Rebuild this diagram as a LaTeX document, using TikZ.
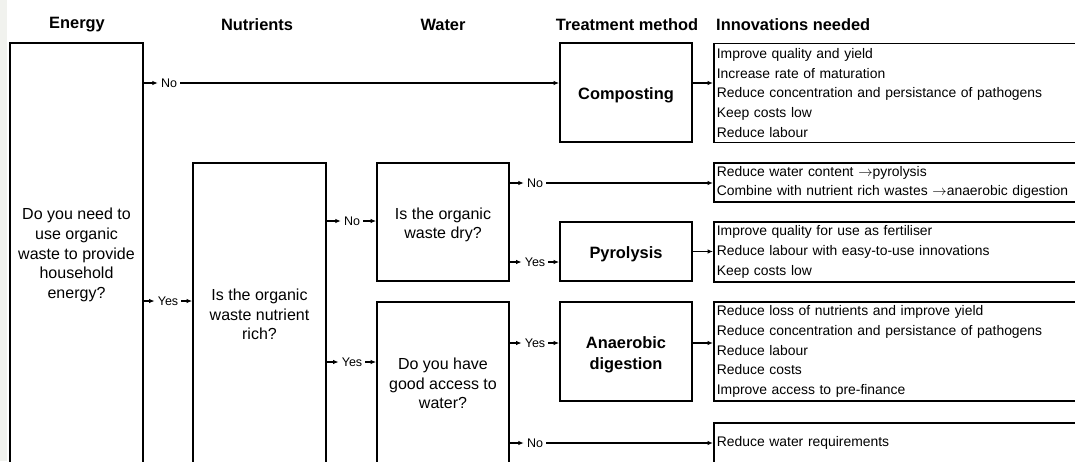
\documentclass[tikz,border=0pt]{standalone}
\usepackage{fontspec}
\setmainfont{Liberation Sans}
\usetikzlibrary{arrows.meta,calc}
\definecolor{stripcol}{HTML}{F1F2EE}
\newcommand{\rarr}{\ $\rightarrow$}
\begin{document}
\begin{tikzpicture}[x=1pt,y=-1pt,
  box/.style={draw=black, line width=1.7pt, inner sep=0pt, anchor=center},
  qtext/.style={align=center, inner sep=0pt, font=\fontsize{16}{19.6}\selectfont},
  ttext/.style={align=center, inner sep=0pt, font=\fontsize{16.4}{20}\selectfont\bfseries},
  head/.style={inner sep=0pt, font=\fontsize{16.4}{20}\selectfont\bfseries},
  lab/.style={inner xsep=3pt, inner ysep=1pt, font=\fontsize{12.5}{15}\selectfont},
  inn/.style={draw=black, line width=1.7pt, anchor=west, align=left, text width=400pt,
              inner xsep=3pt, inner ysep=1pt, font=\fontsize{13.9}{19.8}\selectfont},
  conn/.style={line width=1.2pt, -{Latex[length=5.5pt,width=4.5pt]}}]
\useasboundingbox (0,0) rectangle (1075,461);
\clip (0,0) rectangle (1075,461);
\fill[white] (0,0) rectangle (1075,461);
\fill[stripcol] (0,0) rectangle (7,461);

% headers
\node[head] (hE) at (77,25) {Energy};
\node[head] (hN) at (257,25) {Nutrients};
\node[head] (hW) at (443,25) {Water};
\node[head] (hT) at (627,25) {Treatment method};
\node[head, anchor=west] (hI) at (716,25) {Innovations needed};

% question boxes
\node[box, minimum width=133pt, minimum height=460pt] (energy) at (76.5,273) {};
\node[qtext] (energyq) at (76.5,255) {Do you need to\\use organic\\waste to provide\\household\\energy?};
\node[box, minimum width=133pt, minimum height=340pt] (nutr) at (259.5,333) {};
\node[qtext] (nutrq) at (259.5,314.5) {Is the organic\\waste nutrient\\rich?};
\node[box, minimum width=132pt, minimum height=118pt] (dry) at (443,222) {};
\node[qtext] (dryq) at (443,225) {Is the organic\\waste dry?};
\node[box, minimum width=132pt, minimum height=201pt] (water) at (443,402.5) {};
\node[qtext] (waterq) at (443,383.5) {Do you have\\good access to\\water?};

% treatment boxes
\node[box, minimum width=132pt, minimum height=99pt] (comp) at (626,92.5) {};
\node[ttext] (compt) at (626,95.5) {Composting};
\node[box, minimum width=132pt, minimum height=59pt] (pyro) at (626,251.5) {};
\node[ttext] (pyrot) at (626,254.5) {Pyrolysis};
\node[box, minimum width=132pt, minimum height=99pt] (anae) at (626,351.5) {};
\node[ttext, font=\fontsize{16.4}{20.5}\selectfont\bfseries] (anaet) at (626,355) {Anaerobic\\digestion};

% innovation boxes
\node[inn, minimum height=99pt] (inn1) at (713,93) {Improve quality and yield\\Increase rate of maturation\\Reduce concentration and persistance of pathogens\\Keep costs low\\Reduce labour};
\node[inn, minimum height=39pt] (inn2) at (713,182.5) {Reduce water content\rarr pyrolysis\\Combine with nutrient rich wastes\rarr anaerobic digestion};
\node[inn, minimum height=60pt] (inn3) at (713,252) {Improve quality for use as fertiliser\\Reduce labour with easy-to-use innovations\\Keep costs low};
\node[inn, minimum height=99pt] (inn4) at (713,351.5) {Reduce loss of nutrients and improve yield\\Reduce concentration and persistance of pathogens\\Reduce labour\\Reduce costs\\Improve access to pre-finance};
\node[inn, minimum height=40pt] (inn5) at (713,443) {Reduce water requirements};

% labels
\node[lab] (noE) at (169,83) {No};
\node[lab] (yesE) at (168,301) {Yes};
\node[lab] (noN) at (352,221) {No};
\node[lab] (yesN) at (352,362) {Yes};
\node[lab] (noW1) at (535,183) {No};
\node[lab] (yesW1) at (535,262) {Yes};
\node[lab] (yesW2) at (535,343) {Yes};
\node[lab] (noW2) at (535,443) {No};

% connectors
\draw[conn] (energy.east |- noE) -- (noE.west);
\draw[conn] (noE.east) -- (noE -| comp.west);
\draw[conn] (comp.east |- noE) -- (noE -| inn1.west);
\draw[conn] (energy.east |- yesE) -- (yesE.west);
\draw[conn] (yesE.east) -- (yesE -| nutr.west);

\draw[conn] (nutr.east |- noN) -- (noN.west);
\draw[conn] (noN.east) -- (noN -| dry.west);
\draw[conn] (nutr.east |- yesN) -- (yesN.west);
\draw[conn] (yesN.east) -- (yesN -| water.west);

\draw[conn] (dry.east |- noW1) -- (noW1.west);
\draw[conn] (noW1.east) -- (noW1 -| inn2.west);
\draw[conn] (dry.east |- yesW1) -- (yesW1.west);
\draw[conn] (yesW1.east) -- (yesW1 -| pyro.west);
\draw[conn] (pyro.east) -- (pyro.east -| inn3.west);

\draw[conn] (water.east |- yesW2) -- (yesW2.west);
\draw[conn] (yesW2.east) -- (yesW2 -| anae.west);
\draw[conn] (anae.east |- yesW2) -- (yesW2 -| inn4.west);
\draw[conn] (water.east |- noW2) -- (noW2.west);
\draw[conn] (noW2.east) -- (noW2 -| inn5.west);
\end{tikzpicture}
\end{document}
